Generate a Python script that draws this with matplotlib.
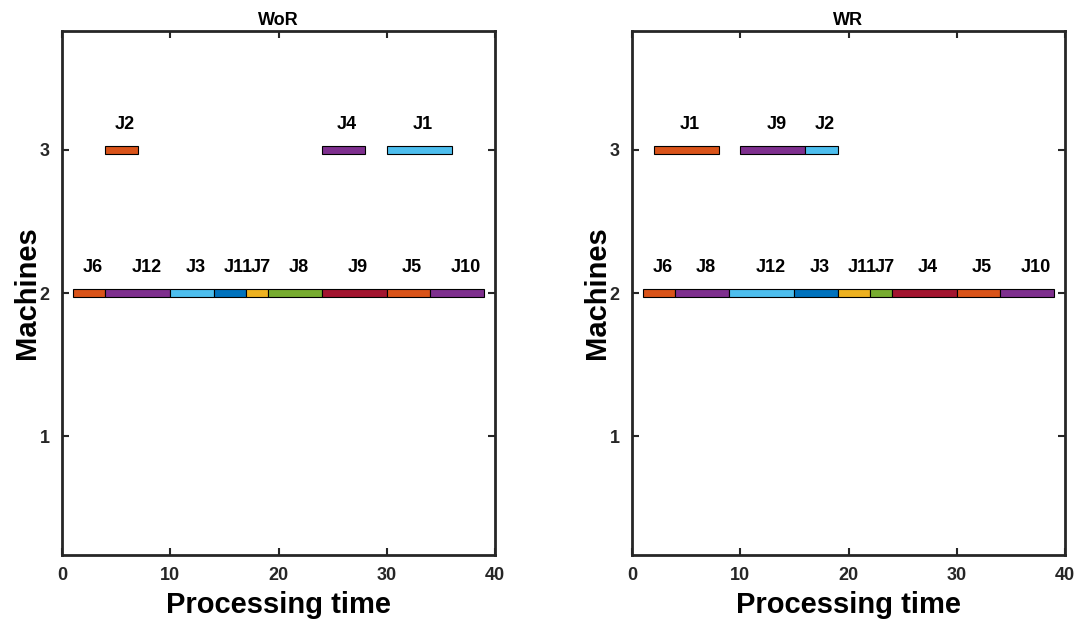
import matplotlib
matplotlib.use('Agg')
import matplotlib.pyplot as plt

plt.rcParams['font.family'] = ['Liberation Sans', 'DejaVu Sans']
plt.rcParams['font.weight'] = 'bold'

# MATLAB default colour order
orange = '#D95319'
purple = '#7E2F8E'
lblue = '#4DBEEE'
blue = '#0072BD'
yellow = '#EDB120'
green = '#77AC30'
dred = '#A2142F'

# WoR schedule
wor_jobs = ['J6', 'J12', 'J3', 'J11', 'J7', 'J8', 'J9', 'J5', 'J10', 'J2', 'J4', 'J1']
wor_machine = [2, 2, 2, 2, 2, 2, 2, 2, 2, 3, 3, 3]
wor_start = [1, 4, 10, 14, 17, 19, 24, 30, 34, 4, 24, 30]
wor_end = [4, 10, 14, 17, 19, 24, 30, 34, 39, 7, 28, 36]
wor_colors = [orange, purple, lblue, blue, yellow, green, dred, orange, purple,
              orange, purple, lblue]

# WR schedule
wr_jobs = ['J6', 'J8', 'J12', 'J3', 'J11', 'J7', 'J4', 'J5', 'J10', 'J1', 'J9', 'J2']
wr_machine = [2, 2, 2, 2, 2, 2, 2, 2, 2, 3, 3, 3]
wr_start = [1, 4, 9, 15, 19, 22, 24, 30, 34, 2, 10, 16]
wr_end = [4, 9, 15, 19, 22, 24, 30, 34, 39, 8, 16, 19]
wr_colors = [orange, purple, lblue, blue, yellow, green, dred, orange, purple,
             orange, purple, lblue]

fig = plt.figure(figsize=(10.79, 6.23), dpi=100)
ax1 = fig.add_axes([62/1079, 1 - 555/623, 433/1079, 524/623])
ax2 = fig.add_axes([632/1079, 1 - 555/623, 433/1079, 524/623])


def gantt(ax, title, jobs, machine, start, end, colors):
    for j, m, s, e, c in zip(jobs, machine, start, end, colors):
        ax.barh(m, e - s, left=s, height=0.055, color=c, edgecolor='black',
                linewidth=0.8, zorder=3)
        ax.text((s + e) / 2 - 0.6, m + 0.18, j, ha='left', va='center',
                fontsize=13, fontweight='bold')
    ax.set_xlim(0, 40)
    ax.set_ylim(0.17, 3.83)
    ax.set_xticks([0, 10, 20, 30, 40])
    ax.set_yticks([1, 2, 3])
    ax.tick_params(direction='in', top=True, right=True, length=5, width=1.5,
                   labelsize=13, colors='#262626', pad=9)
    for sp in ax.spines.values():
        sp.set_linewidth(2)
        sp.set_color('#262626')
    ax.set_title(title, fontsize=13, fontweight='bold', pad=4)
    ax.set_xlabel('Processing time', fontsize=21, fontweight='bold', labelpad=5)
    ax.set_ylabel('Machines', fontsize=21, fontweight='bold', labelpad=-1)


gantt(ax1, 'WoR', wor_jobs, wor_machine, wor_start, wor_end, wor_colors)
gantt(ax2, 'WR', wr_jobs, wr_machine, wr_start, wr_end, wr_colors)

fig.savefig('out.png', dpi=100)
